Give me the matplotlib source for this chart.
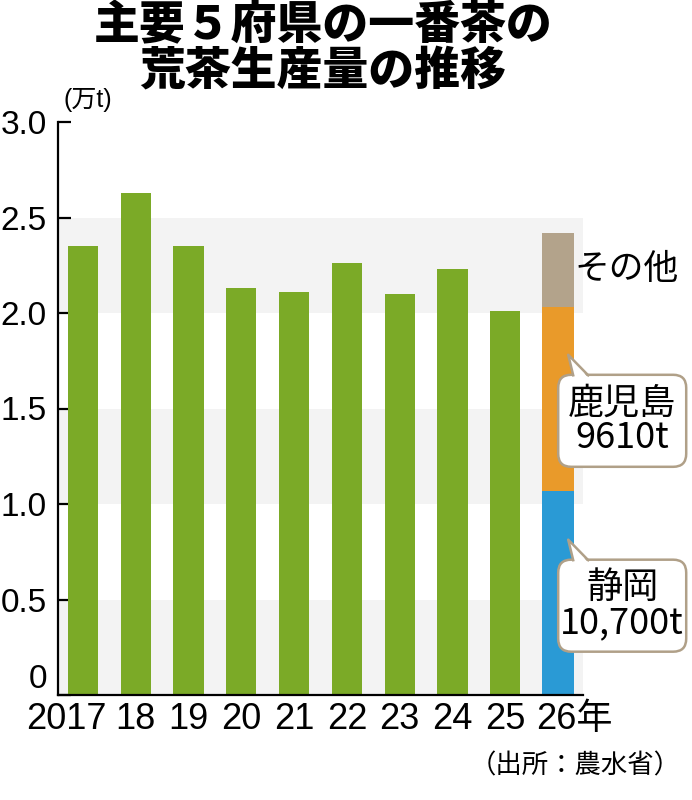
import matplotlib
matplotlib.use('Agg')
import matplotlib.pyplot as plt
from matplotlib import font_manager
from matplotlib.patches import FancyBboxPatch, Polygon
from matplotlib.lines import Line2D
from matplotlib.transforms import blended_transform_factory, ScaledTranslation

names = {f.name for f in font_manager.fontManager.ttflist}
num_font = 'Liberation Sans Narrow' if 'Liberation Sans Narrow' in names else 'Liberation Sans'
jp = 'Noto Sans CJK JP'
plt.rcParams['font.family'] = [num_font, jp, 'DejaVu Sans']

# data (万t)
years = ['2017', '18', '19', '20', '21', '22', '23', '24', '25']
totals = [2.35, 2.63, 2.35, 2.13, 2.11, 2.26, 2.10, 2.23, 2.01]
label_26 = '26年'
shizuoka = 1.07
kagoshima = 0.961
others = 0.39
yticks = [0, 0.5, 1.0, 1.5, 2.0, 2.5, 3.0]
ytick_labels = ['0', '0.5', '1.0', '1.5', '2.0', '2.5', '3.0']

green = '#7baa27'
blue = '#2a9ad5'
orange = '#e99a2a'
tan = '#b3a38b'
band = '#f3f3f3'
edge = '#b0a088'

fig = plt.figure(figsize=(6.92, 8), dpi=100)
ax = fig.add_axes([58/692, 105/800, 525/692, 573/800])

# alternating background bands
for lo, hi in zip(yticks[0::2], yticks[1::2]):
    ax.axhspan(lo, hi, color=band, lw=0, zorder=0)

xs = list(range(len(years)))
ax.bar(xs, totals, width=0.57, color=green, zorder=2)
x26 = len(years)
ax.bar(x26, shizuoka, width=0.6, color=blue, zorder=2)
ax.bar(x26, kagoshima, bottom=shizuoka, width=0.6, color=orange, zorder=2)
ax.bar(x26, others, bottom=shizuoka + kagoshima, width=0.6, color=tan, zorder=2)

ax.set_xlim(-0.47, 9.47)
ax.set_ylim(0, 3.0)
ax.spines[['top', 'right']].set_visible(False)
ax.spines[['left', 'bottom']].set_linewidth(1.6)
ax.set_yticks(yticks)
ax.set_yticklabels(ytick_labels)
ax.tick_params(axis='y', direction='in', length=9, width=1.6, pad=8, labelsize=24)
ax.get_yticklabels()[0].set_va('bottom')
ax.set_xticks([])

# x labels: the last two digits sit under each bar
trans = blended_transform_factory(ax.transData, ax.transAxes)
all_labels = years + [label_26]
for i, lab in enumerate(all_labels):
    dx = 0
    if lab == '2017':
        dx = -12
    elif lab.endswith('年'):
        dx = 12
    ax.annotate(lab, xy=(i, 0), xycoords=trans, xytext=(dx, -5),
                textcoords='offset points', ha='center', va='top',
                fontsize=26, annotation_clip=False)

ax.text(0.01, 1.017, '(万t)', transform=ax.transAxes, fontsize=18,
        va='bottom', ha='left', family=[num_font, jp])

# labels for the 2026 stack
ax.text(x26 + 0.3, shizuoka + kagoshima + others / 2, 'その他',
        fontsize=25, family=jp, va='center', ha='left')


def bubble(tip_x, tip_y, text):
    # speech bubble, sizes in inches relative to the tip
    t = fig.dpi_scale_trans + ScaledTranslation(tip_x, tip_y, ax.transData)
    box = FancyBboxPatch((-0.10, -1.12), 1.28, 0.92,
                         boxstyle='round,pad=0,rounding_size=0.13',
                         transform=t, fc='white', ec=edge, lw=1.8,
                         clip_on=False, zorder=5)
    ax.add_patch(box)
    fill = Polygon([(0.05, -0.23), (0, 0), (0.20, -0.23)], closed=True,
                   transform=t, fc='white', ec='none', clip_on=False, zorder=6)
    ax.add_patch(fill)
    ax.add_line(Line2D([0.05, 0, 0.20], [-0.205, 0, -0.205], transform=t,
                       color=edge, lw=1.8, clip_on=False, zorder=7,
                       solid_joinstyle='round'))
    ax.text(0.54, -0.66, text, transform=t, ha='center', va='center',
            fontsize=26, family=jp, linespacing=0.95, zorder=8)


bubble(x26 + 0.19, shizuoka + kagoshima * 0.74, '鹿児島\n9610t')
bubble(x26 + 0.19, shizuoka * 0.76, '静岡\n10,700t')

fig.text(0.467, 0.997, '主要５府県の一番茶の\n荒茶生産量の推移', ha='center', va='top',
         fontsize=33, fontweight='black', family=jp, linespacing=0.95)
fig.text(0.983, 0.042, '（出所：農水省）', ha='right', va='center', fontsize=19, family=jp)

fig.savefig('out.png', dpi=100)
